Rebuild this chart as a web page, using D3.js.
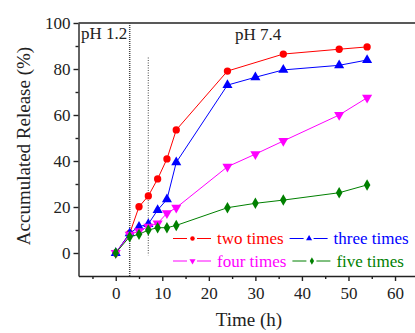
<!DOCTYPE html>
<html>
<head>
<meta charset="utf-8">
<script src="https://cdn.jsdelivr.net/npm/d3@7"></script>
<style>
  body { margin: 0; background: #fff; }
  svg text { font-family: "Liberation Serif", "Times New Roman", serif; }
</style>
</head>
<body>
<svg id="chart" width="415" height="333"></svg>
<script>
// data
const timeTwo = [0, 3, 5, 7, 9, 11, 13, 24, 36, 48, 54]
const releaseTwo = [0, 8.5, 20.1, 24.8, 32.2, 40.9, 53.5, 79.1, 86.5, 88.6, 89.6]
const timeThree = [0, 3, 5, 7, 9, 11, 13, 24, 30, 36, 48, 54]
const releaseThree = [0, 8.6, 11.4, 12.6, 18.7, 23.3, 39.4, 73, 76.4, 79.6, 81.6, 83.9]
const timeFour = [0, 3, 5, 7, 9, 11, 13, 24, 30, 36, 48, 54]
const releaseFour = [0, 8, 9.5, 11.5, 12.9, 17.3, 19.7, 37.5, 43, 48.7, 60, 67.5]
const timeFive = [0, 3, 5, 7, 9, 11, 13, 24, 30, 36, 48, 54]
const releaseFive = [0, 7.1, 8.1, 10, 11, 11, 12, 19.7, 21.6, 23, 26.2, 29.6]
const seriesNames = ["two times", "three times", "four times", "five times"]
const xTicks = [0, 10, 20, 30, 40, 50, 60]
const yTicks = [0, 20, 40, 60, 80, 100]
const phLabels = ["pH 1.2", "pH 7.4"]

const colors = ["#ff0000", "#0000ff", "#ff00ff", "#008000"]
const symbols = [d3.symbolCircle, d3.symbolTriangle, d3.symbolTriangle, d3.symbolDiamond]
const rotations = [0, 0, 180, 0]
const markSizes = [42, 44, 44, 38]

const series = [
  {t: timeTwo, v: releaseTwo},
  {t: timeThree, v: releaseThree},
  {t: timeFour, v: releaseFour},
  {t: timeFive, v: releaseFive}
]

const svg = d3.select("#chart")
const x = d3.scaleLinear().domain([-8, 65]).range([78.5, 418.3])
const y = d3.scaleLinear().domain([-10, 100]).range([276, 23])
const ink = "#222"

// frame: left + bottom axes, top border
const g = svg.append("g")

g.append("g")
  .attr("transform", `translate(0,${y(-10)})`)
  .call(d3.axisBottom(x).tickValues(xTicks).tickSize(5).tickSizeOuter(0).tickPadding(6))
  .call(a => a.selectAll("text").attr("font-size", "17px").attr("fill", ink))
g.append("g")
  .attr("transform", `translate(0,${y(-10)})`)
  .call(d3.axisBottom(x).tickValues([-5, 5, 15, 25, 35, 45, 55]).tickSize(3).tickSizeOuter(0).tickFormat(""))
  .call(a => a.select(".domain").remove())

g.append("g")
  .attr("transform", `translate(${x(-8)},0)`)
  .call(d3.axisLeft(y).tickValues(yTicks).tickSize(5).tickSizeOuter(0).tickPadding(3))
  .call(a => a.selectAll("text").attr("font-size", "17px").attr("fill", ink))
g.append("g")
  .attr("transform", `translate(${x(-8)},0)`)
  .call(d3.axisLeft(y).tickValues([10, 30, 50, 70, 90]).tickSize(3).tickSizeOuter(0).tickFormat(""))
  .call(a => a.select(".domain").remove())

g.selectAll(".domain, .tick line").attr("stroke", ink).attr("stroke-width", 1.4)

g.append("line")
  .attr("x1", x(-8)).attr("x2", 415)
  .attr("y1", y(100)).attr("y2", y(100))
  .attr("stroke", ink).attr("stroke-width", 1.4)

// stage boundaries
g.append("line")
  .attr("x1", x(3)).attr("x2", x(3))
  .attr("y1", y(100)).attr("y2", y(-10))
  .attr("stroke", "#444").attr("stroke-width", 1.5)
  .attr("stroke-dasharray", "1,1")
g.append("line")
  .attr("x1", x(7)).attr("x2", x(7))
  .attr("y1", y(85)).attr("y2", y(-1))
  .attr("stroke", "#666").attr("stroke-width", 1.2)
  .attr("stroke-dasharray", "1,1.5")

g.append("text").attr("x", 81).attr("y", 39)
  .attr("font-size", "17px").attr("fill", ink).text(phLabels[0])
g.append("text").attr("x", 235).attr("y", 40)
  .attr("font-size", "17px").attr("fill", ink).text(phLabels[1])

// series
const line = d3.line().x(d => x(d[0])).y(d => y(d[1]))
series.forEach((s, i) => {
  const pts = s.t.map((t, j) => [t, s.v[j]])
  const sg = svg.append("g")
  sg.append("path")
    .attr("d", line(pts))
    .attr("fill", "none")
    .attr("stroke", colors[i])
    .attr("stroke-width", 1)
  sg.selectAll("path.mark")
    .data(pts)
    .enter().append("path")
    .attr("class", "mark")
    .attr("d", d3.symbol().type(symbols[i]).size(markSizes[i]))
    .attr("transform", d => `translate(${x(d[0])},${y(d[1])}) rotate(${rotations[i]})`)
    .attr("fill", colors[i])
})

// legend, two rows laid out left to right
const legendRows = [[0, 1], [2, 3]]
const rowY = [244, 266.5]
legendRows.forEach((row, r) => {
  let cx = 173
  row.forEach(i => {
    const lg = svg.append("g").attr("transform", `translate(${cx},${rowY[r] - 5.5})`)
    lg.append("line").attr("x1", 0).attr("x2", 14).attr("stroke", colors[i]).attr("stroke-width", 1)
    lg.append("line").attr("x1", 24).attr("x2", 38).attr("stroke", colors[i]).attr("stroke-width", 1)
    lg.append("path")
      .attr("d", d3.symbol().type(symbols[i]).size(16))
      .attr("transform", `translate(19.5,0) rotate(${rotations[i]})`)
      .attr("fill", colors[i])
    const txt = lg.append("text")
      .attr("x", 44).attr("y", 5.5)
      .attr("font-size", "17px")
      .attr("fill", colors[i])
      .text(seriesNames[i])
    cx += 44 + txt.node().getComputedTextLength() + 6
  })
})

// axis titles
svg.append("text")
  .attr("x", 249).attr("y", 326)
  .attr("text-anchor", "middle")
  .attr("font-size", "19px").attr("fill", ink)
  .text("Time (h)")
svg.append("text")
  .attr("transform", "translate(30,146) rotate(-90)")
  .attr("text-anchor", "middle")
  .attr("font-size", "19px").attr("fill", ink)
  .text("Accumulated Release (%)")
</script>
</body>
</html>
